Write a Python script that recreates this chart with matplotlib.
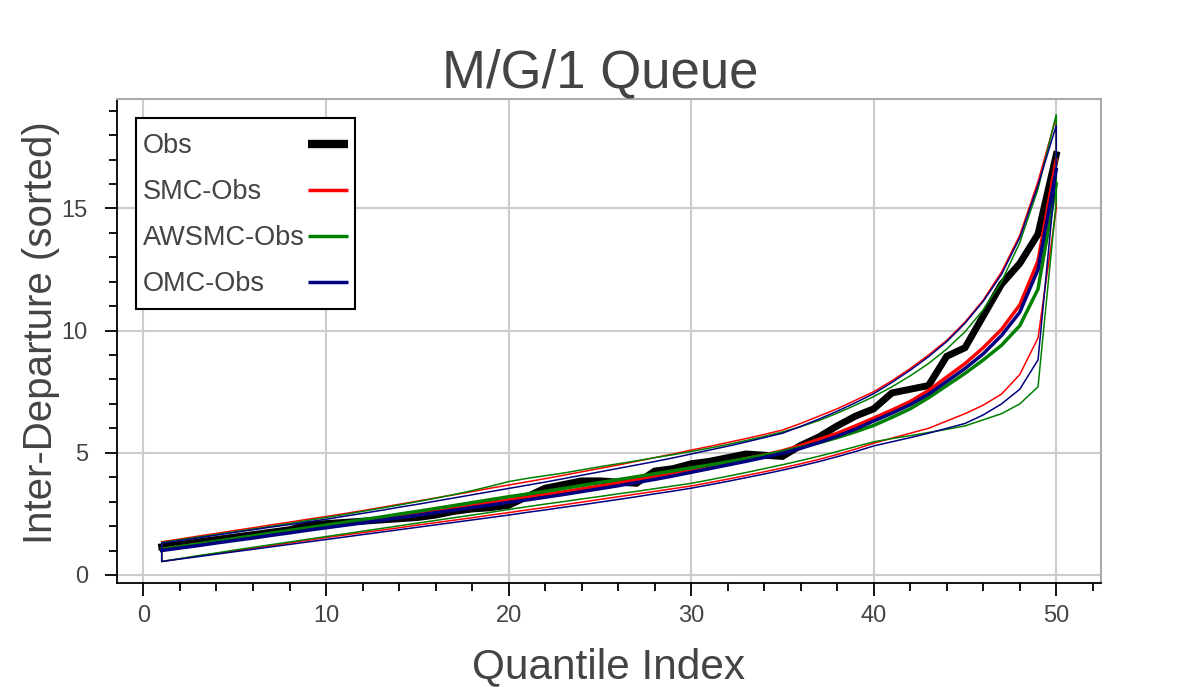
import numpy as np
import matplotlib.pyplot as plt
from matplotlib.ticker import MultipleLocator
from matplotlib.patches import Rectangle
from matplotlib.lines import Line2D

# quantile index 1..50
quantile_index = list(range(1, 51))

obs = [1.15, 1.25, 1.35, 1.45, 1.55, 1.65, 1.75, 1.85, 2.05, 2.10,
       2.15, 2.20, 2.25, 2.30, 2.35, 2.45, 2.60, 2.70, 2.75, 2.85,
       3.20, 3.55, 3.70, 3.85, 3.85, 3.80, 3.75, 4.25, 4.35, 4.55,
       4.65, 4.80, 4.95, 4.90, 4.85, 5.30, 5.65, 6.10, 6.50, 6.80,
       7.45, 7.60, 7.75, 8.95, 9.30, 10.60, 11.90, 12.75, 13.95, 17.20]

smc_mean = [1.05, 1.15, 1.26, 1.36, 1.47, 1.57, 1.68, 1.78, 1.89, 2.00,
            2.10, 2.21, 2.31, 2.42, 2.52, 2.63, 2.74, 2.85, 2.96, 3.07,
            3.18, 3.29, 3.40, 3.52, 3.64, 3.77, 3.90, 4.04, 4.18, 4.33,
            4.47, 4.61, 4.76, 4.91, 5.08, 5.30, 5.55, 5.80, 6.10, 6.42,
            6.75, 7.10, 7.55, 8.10, 8.65, 9.30, 10.05, 11.05, 12.85, 17.00]
smc_upper = [1.36, 1.47, 1.59, 1.70, 1.82, 1.93, 2.05, 2.16, 2.28, 2.39,
             2.51, 2.63, 2.76, 2.89, 3.02, 3.15, 3.28, 3.41, 3.55, 3.68,
             3.81, 3.94, 4.08, 4.22, 4.36, 4.50, 4.65, 4.80, 4.95, 5.11,
             5.26, 5.42, 5.58, 5.75, 5.93, 6.20, 6.50, 6.80, 7.15, 7.50,
             7.95, 8.45, 9.00, 9.60, 10.35, 11.25, 12.40, 13.90, 16.10, 18.75]
smc_lower = [0.55, 0.66, 0.77, 0.88, 0.98, 1.09, 1.20, 1.31, 1.42, 1.53,
             1.63, 1.73, 1.83, 1.93, 2.04, 2.14, 2.24, 2.34, 2.45, 2.55,
             2.66, 2.76, 2.87, 2.98, 3.09, 3.20, 3.31, 3.42, 3.53, 3.64,
             3.78, 3.92, 4.07, 4.22, 4.38, 4.55, 4.73, 4.93, 5.15, 5.39,
             5.60, 5.80, 6.00, 6.30, 6.60, 6.95, 7.40, 8.20, 9.70, 15.00]

awsmc_mean = [1.05, 1.16, 1.27, 1.38, 1.49, 1.60, 1.71, 1.82, 1.93, 2.04,
              2.15, 2.26, 2.37, 2.49, 2.60, 2.72, 2.84, 2.96, 3.08, 3.20,
              3.31, 3.42, 3.54, 3.66, 3.78, 3.90, 4.02, 4.14, 4.26, 4.38,
              4.50, 4.63, 4.76, 4.90, 5.05, 5.22, 5.41, 5.62, 5.86, 6.12,
              6.45, 6.80, 7.25, 7.75, 8.25, 8.80, 9.40, 10.20, 11.70, 16.00]
awsmc_upper = [1.33, 1.44, 1.55, 1.66, 1.77, 1.88, 1.99, 2.11, 2.23, 2.35,
               2.47, 2.60, 2.73, 2.86, 3.00, 3.14, 3.29, 3.45, 3.63, 3.82,
               3.95, 4.06, 4.17, 4.30, 4.43, 4.55, 4.67, 4.80, 4.92, 5.05,
               5.19, 5.34, 5.50, 5.67, 5.85, 6.07, 6.32, 6.62, 6.95, 7.30,
               7.70, 8.15, 8.65, 9.25, 9.95, 10.85, 12.00, 13.60, 15.80, 18.85]
awsmc_lower = [0.55, 0.67, 0.79, 0.90, 1.02, 1.13, 1.24, 1.35, 1.46, 1.57,
               1.68, 1.79, 1.90, 2.01, 2.12, 2.23, 2.34, 2.45, 2.56, 2.68,
               2.79, 2.90, 3.00, 3.11, 3.21, 3.32, 3.42, 3.53, 3.64, 3.75,
               3.89, 4.04, 4.19, 4.35, 4.51, 4.68, 4.86, 5.05, 5.25, 5.45,
               5.58, 5.70, 5.83, 5.96, 6.10, 6.35, 6.60, 7.00, 7.70, 15.30]

omc_mean = [1.00, 1.10, 1.20, 1.31, 1.41, 1.51, 1.62, 1.72, 1.83, 1.93,
            2.03, 2.13, 2.23, 2.34, 2.44, 2.55, 2.65, 2.76, 2.86, 2.97,
            3.07, 3.18, 3.29, 3.41, 3.53, 3.65, 3.78, 3.91, 4.05, 4.20,
            4.35, 4.50, 4.65, 4.81, 4.98, 5.18, 5.42, 5.68, 5.97, 6.30,
            6.62, 6.97, 7.40, 7.92, 8.45, 9.05, 9.80, 10.75, 12.50, 16.60]
omc_upper = [1.30, 1.41, 1.52, 1.63, 1.74, 1.85, 1.96, 2.06, 2.17, 2.28,
             2.40, 2.52, 2.64, 2.77, 2.89, 3.02, 3.15, 3.28, 3.41, 3.54,
             3.67, 3.80, 3.94, 4.08, 4.22, 4.36, 4.50, 4.64, 4.79, 4.95,
             5.11, 5.27, 5.44, 5.62, 5.80, 6.08, 6.38, 6.70, 7.05, 7.42,
             7.88, 8.38, 8.93, 9.55, 10.30, 11.20, 12.30, 13.80, 15.95, 18.40]
omc_lower = [0.55, 0.65, 0.75, 0.85, 0.95, 1.05, 1.15, 1.25, 1.35, 1.45,
             1.55, 1.65, 1.75, 1.85, 1.95, 2.05, 2.15, 2.25, 2.35, 2.45,
             2.56, 2.66, 2.77, 2.87, 2.98, 3.09, 3.20, 3.32, 3.43, 3.55,
             3.69, 3.83, 3.98, 4.13, 4.29, 4.46, 4.64, 4.84, 5.05, 5.28,
             5.45, 5.62, 5.80, 6.00, 6.20, 6.55, 7.00, 7.60, 8.80, 16.60]

TXT = '#444444'
plt.rcParams['font.family'] = ['Liberation Sans', 'DejaVu Sans']

W, H = 1200, 700
fig = plt.figure(figsize=(12, 7), dpi=100)
ax = fig.add_axes([117 / W, 1 - 583 / H, 984 / W, 484 / H])

x = np.array(quantile_index)

# Obs
ax.plot(x, obs, color='black', lw=5, solid_joinstyle='miter', zorder=3)

methods = [
    ('SMC-Obs', 'red', smc_mean, smc_lower, smc_upper),
    ('AWSMC-Obs', 'green', awsmc_mean, awsmc_lower, awsmc_upper),
    ('OMC-Obs', 'navy', omc_mean, omc_lower, omc_upper),
]
for name, col, mean, lo, up in methods:
    ax.plot(x, mean, color=col, lw=2.5, zorder=4)
    # band outline: upper left->right, lower right->left
    bx = np.concatenate([x, x[::-1]])
    by = np.concatenate([up, lo[::-1]])
    ax.fill(bx, by, fill=False, edgecolor=col, lw=1.1, zorder=4)

ax.set_xlim(-1.45, 52.45)
ax.set_ylim(-0.33, 19.48)
ax.xaxis.set_major_locator(MultipleLocator(10))
ax.xaxis.set_minor_locator(MultipleLocator(2))
ax.yaxis.set_major_locator(MultipleLocator(5))
ax.yaxis.set_minor_locator(MultipleLocator(1))

ax.grid(True, which='major', color='#cccccc', lw=1.5)
ax.set_axisbelow(True)

for s in ['top', 'right']:
    ax.spines[s].set_color('#aaaaaa')
    ax.spines[s].set_linewidth(1.5)
for s in ['left', 'bottom']:
    ax.spines[s].set_color('black')
    ax.spines[s].set_linewidth(1.3)

ax.tick_params(which='major', direction='out', length=9, width=1.3,
               labelsize=17, labelcolor=TXT)
ax.tick_params(which='minor', direction='out', length=6, width=1.3)
ax.tick_params(axis='x', which='major', pad=7)
ax.tick_params(axis='y', which='major', pad=12)

# titles / axis labels
fig.text(0.5, 1 - 88 / H, 'M/G/1 Queue', fontsize=38, color=TXT,
         ha='center', va='baseline')
fig.text(608.5 / W, 1 - 678 / H, 'Quantile Index', fontsize=30.5, color=TXT,
         ha='center', va='baseline')
fig.text(41 / W, 1 - 333 / H, 'Inter-Departure (sorted)', fontsize=29,
         color=TXT, rotation=90, ha='center', va='center')

# bokeh-style legend: labels left, glyphs right
entries = [('Obs', 'black', 6)] + [(m[0], m[1], 2.5) for m in methods]
fig.add_artist(Rectangle((136 / W, 1 - 309 / H), 219 / W, 191 / H,
                         transform=fig.transFigure, facecolor='white',
                         edgecolor='black', lw=1.5, zorder=10))
for i, (label, col, lw) in enumerate(entries):
    yb = 153.3 + 46 * i
    yl = 144.3 + 46 * i
    fig.text(143 / W, 1 - yb / H, label, fontsize=19.5, color=TXT,
             va='baseline', zorder=11)
    fig.add_artist(Line2D([308 / W, 348 / W], [1 - yl / H, 1 - yl / H],
                          transform=fig.transFigure, color=col, lw=lw,
                          solid_capstyle='butt', zorder=11))

fig.savefig('out.png', dpi=100, facecolor='white')
